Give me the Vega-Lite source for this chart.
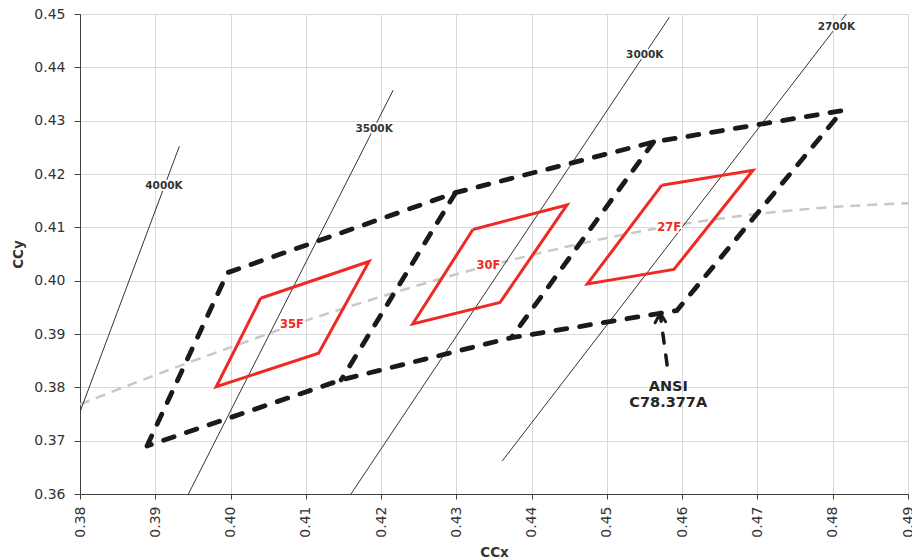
{
  "$schema": "https://vega.github.io/schema/vega-lite/v6.json",
  "width": 828,
  "height": 480,
  "autosize": {"type": "none"},
  "padding": {"left": 80, "top": 14, "right": 4, "bottom": 66},
  "background": "white",
  "config": {"font": "DejaVu Sans", "view": {"stroke": null}},
  "datasets": {
    "locus": [
      {"x": 0.380, "y": 0.3768}, {"x": 0.390, "y": 0.3823}, {"x": 0.400, "y": 0.3875},
      {"x": 0.410, "y": 0.3925}, {"x": 0.420, "y": 0.3970}, {"x": 0.430, "y": 0.4012},
      {"x": 0.440, "y": 0.4048}, {"x": 0.450, "y": 0.4080}, {"x": 0.460, "y": 0.4106},
      {"x": 0.470, "y": 0.4125}, {"x": 0.480, "y": 0.4138}, {"x": 0.490, "y": 0.4145}
    ],
    "iso": [
      {"id": "4000K", "ord": 0, "x": 0.3800, "y": 0.3754}, {"id": "4000K", "ord": 1, "x": 0.3932, "y": 0.4252},
      {"id": "3500K", "ord": 0, "x": 0.3944, "y": 0.3600}, {"id": "3500K", "ord": 1, "x": 0.4216, "y": 0.4357},
      {"id": "3000K", "ord": 0, "x": 0.4160, "y": 0.3600}, {"id": "3000K", "ord": 1, "x": 0.4583, "y": 0.4494},
      {"id": "2700K", "ord": 0, "x": 0.4361, "y": 0.3662}, {"id": "2700K", "ord": 1, "x": 0.4818, "y": 0.4500}
    ],
    "ansi": [
      {"id": "outer", "ord": 0, "x": 0.3889, "y": 0.3690},
      {"id": "outer", "ord": 1, "x": 0.3996, "y": 0.4015},
      {"id": "outer", "ord": 2, "x": 0.4299, "y": 0.4165},
      {"id": "outer", "ord": 3, "x": 0.4562, "y": 0.4260},
      {"id": "outer", "ord": 4, "x": 0.4813, "y": 0.4319},
      {"id": "outer", "ord": 5, "x": 0.4593, "y": 0.3944},
      {"id": "outer", "ord": 6, "x": 0.4373, "y": 0.3893},
      {"id": "outer", "ord": 7, "x": 0.4147, "y": 0.3814},
      {"id": "outer", "ord": 8, "x": 0.3889, "y": 0.3690},
      {"id": "div1", "ord": 0, "x": 0.4299, "y": 0.4165},
      {"id": "div1", "ord": 1, "x": 0.4147, "y": 0.3814},
      {"id": "div2", "ord": 0, "x": 0.4562, "y": 0.4260},
      {"id": "div2", "ord": 1, "x": 0.4373, "y": 0.3893}
    ],
    "red": [
      {"id": "35F", "ord": 0, "x": 0.4040, "y": 0.3967},
      {"id": "35F", "ord": 1, "x": 0.4184, "y": 0.4036},
      {"id": "35F", "ord": 2, "x": 0.4117, "y": 0.3864},
      {"id": "35F", "ord": 3, "x": 0.3981, "y": 0.3801},
      {"id": "35F", "ord": 4, "x": 0.4040, "y": 0.3967},
      {"id": "30F", "ord": 0, "x": 0.4322, "y": 0.4096},
      {"id": "30F", "ord": 1, "x": 0.4447, "y": 0.4142},
      {"id": "30F", "ord": 2, "x": 0.4358, "y": 0.3959},
      {"id": "30F", "ord": 3, "x": 0.4242, "y": 0.3919},
      {"id": "30F", "ord": 4, "x": 0.4322, "y": 0.4096},
      {"id": "27F", "ord": 0, "x": 0.4573, "y": 0.4179},
      {"id": "27F", "ord": 1, "x": 0.4694, "y": 0.4207},
      {"id": "27F", "ord": 2, "x": 0.4589, "y": 0.4021},
      {"id": "27F", "ord": 3, "x": 0.4474, "y": 0.3994},
      {"id": "27F", "ord": 4, "x": 0.4573, "y": 0.4179}
    ],
    "shaft": [
      {"ord": 0, "x": 0.4580, "y": 0.3842},
      {"ord": 1, "x": 0.4571, "y": 0.3935}
    ],
    "head": [
      {"ord": 0, "x": 0.4564, "y": 0.3921},
      {"ord": 1, "x": 0.4571, "y": 0.3939},
      {"ord": 2, "x": 0.4578, "y": 0.3923}
    ],
    "isolabels": [
      {"label": "4000K", "x": 0.39116, "y": 0.41773},
      {"label": "3500K", "x": 0.41907, "y": 0.42841},
      {"label": "3000K", "x": 0.45503, "y": 0.44227},
      {"label": "2700K", "x": 0.48048, "y": 0.44757}
    ],
    "redlabels": [
      {"label": "35F", "x": 0.40814, "y": 0.39170},
      {"label": "30F", "x": 0.43427, "y": 0.40275},
      {"label": "27F", "x": 0.45828, "y": 0.40981}
    ],
    "ansilabels": [
      {"label": "ANSI", "x": 0.45815, "y": 0.38015},
      {"label": "C78.377A", "x": 0.45815, "y": 0.37710}
    ]
  },
  "encoding": {
    "x": {
      "field": "x", "type": "quantitative",
      "scale": {"domain": [0.38, 0.49], "nice": false, "zero": false},
      "axis": {
        "title": "CCx",
        "values": [0.38, 0.39, 0.40, 0.41, 0.42, 0.43, 0.44, 0.45, 0.46, 0.47, 0.48, 0.49],
        "format": ".2f", "labelAngle": -90, "labelAlign": "right", "labelBaseline": "middle",
        "labelPadding": 7, "tickSize": 5, "grid": true, "gridColor": "#d9d9d9",
        "domainColor": "#404040", "tickColor": "#404040", "labelFontSize": 14, "labelColor": "#333333",
        "titleFontSize": 13.5, "titleFontWeight": "bold", "titleColor": "#333333", "titlePadding": 8,
        "labelFlush": false, "labelOverlap": false
      }
    },
    "y": {
      "field": "y", "type": "quantitative",
      "scale": {"domain": [0.36, 0.45], "nice": false, "zero": false},
      "axis": {
        "title": "CCy",
        "values": [0.36, 0.37, 0.38, 0.39, 0.40, 0.41, 0.42, 0.43, 0.44, 0.45],
        "format": ".2f", "labelPadding": 9, "tickSize": 6, "grid": true, "gridColor": "#d9d9d9",
        "domainColor": "#404040", "tickColor": "#404040", "labelFontSize": 14, "labelColor": "#333333",
        "titleFontSize": 13.5, "titleFontWeight": "bold", "titleColor": "#333333", "titlePadding": 8,
        "labelFlush": false, "labelOverlap": false
      }
    }
  },
  "layer": [
    {
      "data": {"name": "locus"},
      "mark": {"type": "line", "color": "#c8c8c8", "strokeWidth": 2.5, "strokeDash": [10, 7], "interpolate": "monotone", "clip": true},
      "encoding": {}
    },
    {
      "data": {"name": "iso"},
      "mark": {"type": "line", "color": "#333333", "strokeWidth": 1, "clip": true},
      "encoding": {"detail": {"field": "id"}, "order": {"field": "ord", "type": "quantitative"}}
    },
    {
      "data": {"name": "ansi"},
      "mark": {"type": "line", "color": "#1a1a1a", "strokeWidth": 4.8, "strokeDash": [11, 13], "strokeCap": "round", "clip": true},
      "encoding": {"detail": {"field": "id"}, "order": {"field": "ord", "type": "quantitative"}}
    },
    {
      "data": {"name": "red"},
      "mark": {"type": "line", "color": "#ee2a24", "strokeWidth": 3, "strokeJoin": "miter"},
      "encoding": {"detail": {"field": "id"}, "order": {"field": "ord", "type": "quantitative"}}
    },
    {
      "data": {"name": "shaft"},
      "mark": {"type": "line", "color": "#1a1a1a", "strokeWidth": 3.5, "strokeDash": [10, 12], "strokeCap": "round"},
      "encoding": {"order": {"field": "ord", "type": "quantitative"}}
    },
    {
      "data": {"name": "head"},
      "mark": {"type": "line", "color": "#1a1a1a", "strokeWidth": 3, "strokeCap": "round", "strokeJoin": "miter"},
      "encoding": {"order": {"field": "ord", "type": "quantitative"}}
    },
    {
      "data": {"name": "isolabels"},
      "mark": {"type": "text", "fontSize": 10.5, "fontWeight": "bold", "color": "white", "stroke": "white", "strokeWidth": 4},
      "encoding": {"text": {"field": "label"}}
    },
    {
      "data": {"name": "isolabels"},
      "mark": {"type": "text", "fontSize": 10.5, "fontWeight": "bold", "color": "#333333"},
      "encoding": {"text": {"field": "label"}}
    },
    {
      "data": {"name": "redlabels"},
      "mark": {"type": "text", "fontSize": 11.5, "fontWeight": "bold", "color": "white", "stroke": "white", "strokeWidth": 4},
      "encoding": {"text": {"field": "label"}}
    },
    {
      "data": {"name": "redlabels"},
      "mark": {"type": "text", "fontSize": 11.5, "fontWeight": "bold", "color": "#ee2a24"},
      "encoding": {"text": {"field": "label"}}
    },
    {
      "data": {"name": "ansilabels"},
      "mark": {"type": "text", "fontSize": 14.5, "fontWeight": "bold", "color": "#262626"},
      "encoding": {"text": {"field": "label"}}
    }
  ]
}
